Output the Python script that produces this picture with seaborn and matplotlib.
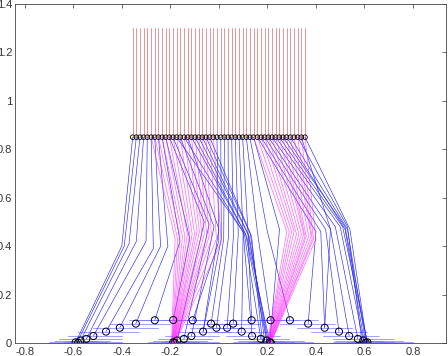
import numpy as np
import pandas as pd
import seaborn as sns
import matplotlib
matplotlib.use("Agg")
import matplotlib.pyplot as plt

# levels of the network
TOP_Y = 0.85
RED_TOP = 1.3

# input nodes (circles at y=0.85, red stems above)
top_x = [-0.355, -0.340, -0.325, -0.310, -0.295, -0.279, -0.264, -0.249, -0.234, -0.219,
         -0.204, -0.189, -0.174, -0.159, -0.143, -0.128, -0.113, -0.098, -0.083, -0.068,
         -0.053, -0.038, -0.023, -0.008, 0.008, 0.023, 0.038, 0.053, 0.068, 0.083,
         0.098, 0.113, 0.128, 0.143, 0.159, 0.174, 0.189, 0.204, 0.219, 0.234,
         0.249, 0.264, 0.279, 0.295, 0.310, 0.325, 0.340, 0.355]

# blue paths: top -> knee -> bottom
blue_top = [-0.355, -0.340, -0.325, -0.310, -0.295, -0.279, -0.264, -0.249, -0.234, -0.219,
            -0.204, -0.189, -0.159, -0.128,
            -0.174, -0.143, -0.113, -0.098, -0.083, -0.068, -0.053, -0.038,
            -0.008, 0.008, 0.023, 0.038, 0.053, 0.068, 0.083, 0.098,
            0.113, 0.128, 0.143, 0.340,
            0.159, 0.174, 0.189, 0.204, 0.219, 0.234, 0.249, 0.264, 0.279, 0.295, 0.325, 0.355]
blue_knee_x = [-0.40, -0.39, -0.37, -0.34, -0.30, -0.27, -0.24, -0.21, -0.16, -0.12,
               -0.06, -0.04, -0.02, 0.00,
               0.10, 0.105, 0.11, 0.115, 0.12, 0.125, 0.13, 0.135,
               0.00, 0.01, 0.02, 0.04, 0.06, 0.08, 0.10, 0.12,
               0.16, 0.20, 0.25, 0.46,
               0.40, 0.42, 0.44, 0.46, 0.48, 0.50, 0.51, 0.52, 0.52, 0.53, 0.53, 0.54]
blue_knee_y = [0.40, 0.40, 0.41, 0.42, 0.42, 0.39, 0.40, 0.40, 0.42, 0.43,
               0.50, 0.49, 0.48, 0.47,
               0.46, 0.45, 0.45, 0.44, 0.45, 0.44, 0.45, 0.44,
               0.42, 0.43, 0.43, 0.44, 0.44, 0.45, 0.45, 0.46,
               0.45, 0.46, 0.47, 0.47,
               0.46, 0.46, 0.47, 0.47, 0.48, 0.48, 0.48, 0.48, 0.47, 0.47, 0.48, 0.47]
blue_bot_x = [-0.590, -0.585, -0.570, -0.546, -0.517, -0.465, -0.408, -0.342, -0.264, -0.188,
              -0.172, -0.144, -0.113, -0.065,
              0.137, 0.173, 0.197, 0.210, 0.205, 0.200, 0.190, 0.180,
              -0.108, -0.065, -0.032, -0.010, 0.034, 0.059, 0.094, 0.135,
              0.213, 0.293, 0.210, 0.436,
              0.368, 0.436, 0.495, 0.537, 0.573, 0.595, 0.612, 0.612, 0.600, 0.605, 0.590, 0.610]
blue_bot_y = [0.003, 0.000, 0.010, 0.017, 0.029, 0.047, 0.063, 0.080, 0.094, 0.095,
              0.010, 0.017, 0.029, 0.047,
              0.029, 0.017, 0.010, 0.003, 0.000, 0.000, 0.000, 0.000,
              0.094, 0.047, 0.080, 0.063, 0.063, 0.080, 0.047, 0.094,
              0.094, 0.094, 0.003, 0.063,
              0.080, 0.063, 0.047, 0.029, 0.017, 0.010, 0.003, 0.000, 0.000, 0.002, 0.000, 0.000]

# magenta fans
mag_top = [-0.279, -0.264, -0.249, -0.234, -0.219, -0.204, -0.189, -0.174, -0.159, -0.143,
           -0.128, -0.113, -0.098, -0.083, -0.068, -0.053, -0.038, -0.023,
           0.143, 0.159, 0.174, 0.189, 0.204, 0.219, 0.234, 0.249, 0.264, 0.279,
           0.295, 0.310, 0.325, 0.340, 0.355]
mag_knee_x = [-0.18, -0.17, -0.16, -0.15, -0.14, -0.13, -0.12, -0.11, -0.10, -0.09,
              -0.08, -0.07, -0.06, -0.05, -0.04, -0.03, -0.01, 0.01,
              0.28, 0.29, 0.30, 0.31, 0.32, 0.33, 0.34, 0.35, 0.355, 0.36,
              0.37, 0.38, 0.385, 0.39, 0.40]
mag_knee_y = [0.43, 0.43, 0.44, 0.44, 0.44, 0.45, 0.45, 0.45, 0.45, 0.46,
              0.46, 0.45, 0.45, 0.44, 0.44, 0.43, 0.43, 0.42,
              0.46, 0.46, 0.46, 0.46, 0.45, 0.45, 0.45, 0.45, 0.44, 0.44,
              0.44, 0.44, 0.43, 0.43, 0.43]
mag_bot_x = [-0.195, -0.194, -0.193, -0.192, -0.191, -0.190, -0.190, -0.189, -0.188, -0.188,
             -0.187, -0.186, -0.185, -0.184, -0.183, -0.182, -0.181, -0.180,
             0.200, 0.201, 0.202, 0.203, 0.204, 0.205, 0.206, 0.207, 0.208, 0.209,
             0.210, 0.211, 0.212, 0.213, 0.214]
mag_bot_y = [0.0] * 33

# output nodes near the bottom
bot_cx = [-0.590, -0.580, -0.570, -0.546, -0.517, -0.465, -0.408, -0.342, -0.264, -0.188,
          -0.108, -0.032, -0.010, 0.034, 0.059, -0.188, -0.182, -0.172, -0.144, -0.113,
          -0.065, 0.094, 0.135, 0.137, 0.173, 0.197, 0.210, 0.215, 0.213, 0.293,
          0.368, 0.436, 0.495, 0.537, 0.573, 0.595, 0.612, 0.605]
bot_cy = [0.003, 0.001, 0.010, 0.017, 0.029, 0.047, 0.063, 0.080, 0.094, 0.095,
          0.094, 0.080, 0.063, 0.063, 0.080, 0.003, 0.001, 0.010, 0.017, 0.029,
          0.047, 0.047, 0.094, 0.029, 0.017, 0.010, 0.003, 0.000, 0.094, 0.094,
          0.080, 0.063, 0.047, 0.029, 0.017, 0.010, 0.003, 0.001]

# horizontal spreads at the bottom
hl_y = [0.003, 0.010, 0.017, 0.029, 0.047, 0.063, 0.080, 0.094, 0.095, 0.094,
        0.080, 0.063, 0.063, 0.080, 0.003, 0.010, 0.017, 0.029, 0.047, 0.047,
        0.094, 0.029, 0.017, 0.010, 0.003, 0.094, 0.094, 0.080, 0.063, 0.047,
        0.029, 0.017, 0.010, 0.003,
        0.000, 0.002, 0.005, 0.007, 0.000, 0.002, 0.005, 0.007,
        0.000, 0.002, 0.005, 0.007, 0.000, 0.002, 0.005, 0.007]
hl_x0 = [-0.70, -0.68, -0.66, -0.62, -0.58, -0.52, -0.45, -0.37, -0.33, -0.22,
         -0.14, -0.12, -0.08, -0.05, -0.29, -0.27, -0.25, -0.22, -0.17, -0.02,
         0.02, 0.03, 0.06, 0.08, 0.06, 0.10, 0.18, 0.25, 0.32, 0.38,
         0.43, 0.47, 0.48, 0.47,
         -0.70, -0.67, -0.64, -0.62, -0.30, -0.27, -0.24, -0.22,
         0.06, 0.09, 0.12, 0.14, 0.47, 0.50, 0.53, 0.55]
hl_x1 = [-0.40, -0.45, -0.40, -0.40, -0.33, -0.25, -0.20, -0.15, -0.05, 0.00,
         0.08, 0.10, 0.15, 0.17, 0.00, -0.05, -0.03, 0.00, 0.05, 0.21,
         0.25, 0.25, 0.29, 0.35, 0.39, 0.33, 0.41, 0.48, 0.55, 0.61,
         0.66, 0.72, 0.76, 0.80,
         -0.38, -0.42, -0.46, -0.50, 0.00, -0.04, -0.08, -0.12,
         0.39, 0.35, 0.31, 0.27, 0.80, 0.76, 0.72, 0.68]

x_ticks = [-0.8, -0.6, -0.4, -0.2, 0, 0.2, 0.4, 0.6, 0.8]
x_tick_labels = ["-0.8", "-0.6", "-0.4", "-0.2", "0", "0.2", "0.4", "0.6", "0.8"]
y_ticks = [0, 0.2, 0.4, 0.6, 0.8, 1.0, 1.2, 1.4]
y_tick_labels = ["0", "0.2", "0.4", "0.6", "0.8", "1", "1.2", "1.4"]


def paths_frame(tx, kx, ky, bx, by):
    rows = []
    for i in range(len(tx)):
        rows.append({"line": i, "x": tx[i], "y": TOP_Y})
        rows.append({"line": i, "x": kx[i], "y": ky[i]})
        rows.append({"line": i, "x": bx[i], "y": by[i]})
    return pd.DataFrame(rows)


def segments_frame(x0, y0, x1, y1):
    rows = []
    for i in range(len(x0)):
        rows.append({"line": i, "x": x0[i], "y": y0[i]})
        rows.append({"line": i, "x": x1[i], "y": y1[i]})
    return pd.DataFrame(rows)


red_df = segments_frame(top_x, [TOP_Y] * len(top_x), top_x, [RED_TOP] * len(top_x))
blue_df = paths_frame(blue_top, blue_knee_x, blue_knee_y, blue_bot_x, blue_bot_y)
mag_df = paths_frame(mag_top, mag_knee_x, mag_knee_y, mag_bot_x, mag_bot_y)
hl_df = segments_frame(hl_x0, hl_y, hl_x1, hl_y)

sns.set_theme(style="white")
plt.rcParams['font.family'] = ['Liberation Sans', 'DejaVu Sans']
plt.rcParams['axes.unicode_minus'] = False

fig = plt.figure(figsize=(4.48, 3.56), dpi=100)
ax = fig.add_axes([15 / 448, 13 / 356, 431 / 448, 339 / 356])

line_kw = dict(x="x", y="y", units="line", estimator=None, sort=False, legend=False, ax=ax)
sns.lineplot(data=red_df, color="#e07878", lw=0.55, **line_kw)
sns.lineplot(data=hl_df, color="#6a6aff", lw=0.55, alpha=0.8, **line_kw)
sns.lineplot(data=blue_df, color="#2a2aee", lw=0.45, **line_kw)
sns.lineplot(data=mag_df, color="#ff22ff", lw=0.5, alpha=0.7, **line_kw)

sns.scatterplot(x=top_x, y=[TOP_Y] * len(top_x), marker="o", s=11,
                facecolors="none", edgecolor="black", linewidth=0.6, ax=ax, zorder=5)
sns.scatterplot(x=bot_cx, y=bot_cy, marker="o", s=26,
                facecolors="none", edgecolor="black", linewidth=0.7, ax=ax, zorder=5)

ax.set_xlim(-0.84, 0.936)
ax.set_ylim(0, 1.4)
ax.set_xticks(x_ticks)
ax.set_xticklabels(x_tick_labels)
ax.set_yticks(y_ticks)
ax.set_yticklabels(y_tick_labels)
ax.set_xlabel("")
ax.set_ylabel("")
ax.tick_params(direction="in", length=3, width=0.5, top=True, right=True,
               labelsize=8, pad=2, colors="#333333")
ax.tick_params(axis="x", pad=3)
for sp in ax.spines.values():
    sp.set_color("#444444")
    sp.set_linewidth(0.6)

fig.savefig("out.png", dpi=100)
